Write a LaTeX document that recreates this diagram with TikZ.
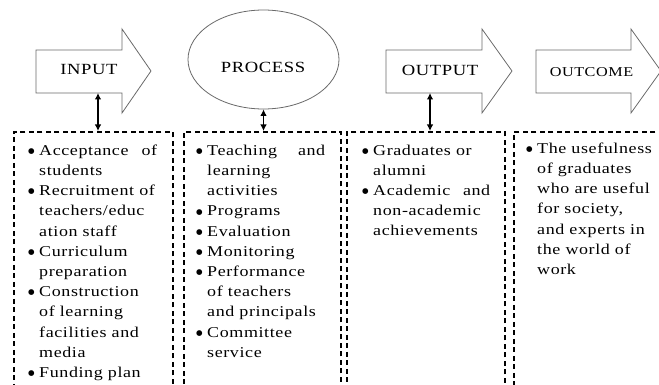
\documentclass[tikz,border=0pt]{standalone}
\usepackage{fontspec}
\setmainfont{Liberation Serif}[FakeStretch=1.2,LetterSpace=4]
\newfontfamily\dotfont{DejaVu Sans}
\usetikzlibrary{shapes.geometric,arrows.meta}
% bullet and hanging indent for the item lists
\newcommand\bul{\makebox[11pt][l]{\raisebox{1.8pt}{\dotfont\fontsize{7.5}{8}\selectfont ●}}}
\newcommand\ind{\hspace*{11pt}}
% fixed height for the first line, so the list top is predictable
\newcommand\firstline{\rule{0pt}{12pt}}
\begin{document}
\begin{tikzpicture}[x=1pt,y=-1pt,
  outline/.style={draw={rgb,255:red,105;green,105;blue,105}, line width=0.8pt},
  heading/.style={font=\fontsize{15.5}{18}\selectfont, anchor=base, inner sep=0},
  dbox/.style={draw, dash pattern=on 5pt off 3.5pt, line width=1.6pt,
    anchor=north west, minimum height=280, inner sep=0},
  items/.style={font=\fontsize{15}{20.2}\selectfont, align=left,
    anchor=north west, inner sep=0},
  link/.style={{Latex[length=6.5pt,width=6.5pt]}-{Latex[length=6.5pt,width=6.5pt]},
    line width=1.1pt}]
\useasboundingbox (0,0) rectangle (659,385);

% block arrows and the ellipse
\draw[outline] (36,50) -- (122,50) -- (122,29) -- (151,71) -- (122,113)
  -- (122,93) -- (36,93) -- cycle;
\node[heading] (inlbl) at (89,74.5) {INPUT};
\coordinate (inbot) at (98,93);

\node[ellipse, outline, minimum width=151, minimum height=99, inner sep=0]
  (proc) at (263.5,59.5) {};
\node[heading] (proclbl) at (263,73) {PROCESS};

\draw[outline] (386,50) -- (482,50) -- (482,29) -- (512,71) -- (482,113)
  -- (482,93) -- (386,93) -- cycle;
\node[heading] (outlbl) at (440,75.5) {OUTPUT};
\coordinate (outbot) at (430,93);

\draw[outline] (536,50) -- (631,50) -- (631,29) -- (661,71) -- (631,113)
  -- (631,93) -- (536,93) -- cycle;
\node[heading, font=\fontsize{13.5}{16}\selectfont] (outclbl) at (591.5,77) {OUTCOME};

% dashed columns
\node[dbox, minimum width=159] (b1) at (13,131) {};
\node[dbox, minimum width=157] (b2) at (183,131) {};
\node[dbox, minimum width=158] (b3) at (346,131) {};
\node[dbox, minimum width=190] (b4) at (513,131) {};

% two-way links
\draw[link] (inbot) -- (inbot |- b1.north);
\draw[link] (proc.south) -- (proc.south |- b2.north);
\draw[link] (outbot) -- (outbot |- b3.north);

% column contents (first baseline 12pt below the node top)
\node[items] (t1) at (28,143) {%
\firstline\bul\makebox[118pt][s]{Acceptance of}\\
\ind students\\
\bul Recruitment of\\
\ind teachers/educ\\
\ind ation staff\\
\bul Curriculum\\
\ind preparation\\
\bul Construction\\
\ind of learning\\
\ind facilities and\\
\ind media\\
\bul Funding plan};

\node[items] (t2) at (196,143) {%
\firstline\bul\makebox[118pt][s]{Teaching and}\\
\ind learning\\
\ind activities\\
\bul Programs\\
\bul Evaluation\\
\bul Monitoring\\
\bul Performance\\
\ind of teachers\\
\ind and principals\\
\bul Committee\\
\ind service};

\node[items] (t3) at (362,143) {%
\firstline\bul Graduates or\\
\ind alumni\\
\bul\makebox[117pt][s]{Academic and}\\
\ind non-academic\\
\ind achievements};

\node[items] (t4) at (526,141) {%
\firstline\bul The usefulness\\
\ind of graduates\\
\ind who are useful\\
\ind for society,\\
\ind and experts in\\
\ind the world of\\
\ind work};
\end{tikzpicture}
\end{document}
